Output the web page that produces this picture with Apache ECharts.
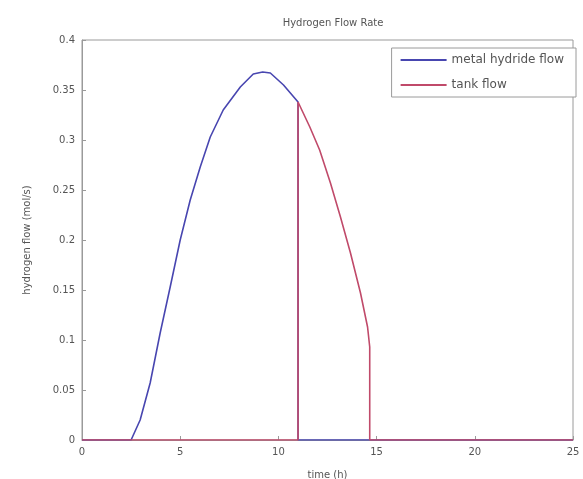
<!DOCTYPE html>
<html><head><meta charset="utf-8">
<script src="https://cdn.jsdelivr.net/npm/echarts@6/dist/echarts.min.js"></script>
<style>html,body{margin:0;padding:0;background:#fff}#c{width:583px;height:479px}</style>
</head><body><div id="c"></div>
<script>
const title = 'Hydrogen Flow Rate';
const xLabel = 'time (h)';
const yLabel = 'hydrogen flow (mol/s)';
const seriesNames = ['metal hydride flow', 'tank flow'];
const xTicks = [0, 5, 10, 15, 20, 25];
const yTicks = [0, 0.05, 0.1, 0.15, 0.2, 0.25, 0.3, 0.35, 0.4];

const hydrideT = [0, 2.5, 2.96, 3.47, 3.98, 4.49, 5.0, 5.51, 6.02, 6.53, 7.19, 8.06, 8.72, 9.2, 9.59, 10.26, 10.87, 11.0, 11.0, 14.65, 25];
const hydrideV = [0, 0, 0.02, 0.057, 0.107, 0.153, 0.2, 0.24, 0.273, 0.303, 0.33, 0.353, 0.366, 0.368, 0.367, 0.355, 0.341, 0.338, 0, 0, 0];

const tankT = [0, 11.0, 11.0, 11.6, 12.1, 12.65, 13.16, 13.67, 14.18, 14.54, 14.65, 14.65, 25];
const tankV = [0, 0, 0.338, 0.313, 0.29, 0.257, 0.223, 0.187, 0.147, 0.113, 0.093, 0, 0];

const zip = (a, b) => a.map((t, i) => [t, b[i]]);
const chart = echarts.init(document.getElementById('c'));
const txt = '#555';
chart.setOption({
  animation: false,
  title: { text: title, left: 328, top: 13, textAlign: 'center',
    textStyle: { fontSize: 10, fontWeight: 'normal', color: txt, fontFamily: 'DejaVu Sans' } },
  grid: { left: 82, right: 10, top: 40, bottom: 39, show: true, borderColor: '#9a9a9a', borderWidth: 1,
    containLabel: false, outerBoundsMode: 'none' },
  legend: {
    right: 7, top: 48, orient: 'vertical', data: seriesNames,
    backgroundColor: '#fff', borderColor: '#9a9a9a', borderWidth: 1,
    padding: [6, 12, 6, 9], itemGap: 13, itemWidth: 46, itemHeight: 2, icon: 'rect',
    textStyle: { fontSize: 12, color: txt, fontFamily: 'DejaVu Sans' }
  },
  xAxis: {
    type: 'value', min: 0, max: 25, interval: 5,
    name: xLabel, nameLocation: 'middle', nameGap: 30,
    nameTextStyle: { fontSize: 10, color: txt, fontFamily: 'DejaVu Sans' },
    axisLine: { show: true, lineStyle: { color: '#9a9a9a' } },
    axisTick: { inside: true, length: 4, lineStyle: { color: '#9a9a9a' } },
    axisLabel: { fontSize: 10, color: txt, fontFamily: 'DejaVu Sans', margin: 7 },
    splitLine: { show: false }
  },
  yAxis: {
    type: 'value', min: 0, max: 0.4, interval: 0.05,
    name: yLabel, nameLocation: 'middle', nameGap: 50,
    nameTextStyle: { fontSize: 10, color: txt, fontFamily: 'DejaVu Sans' },
    axisLine: { show: true, lineStyle: { color: '#9a9a9a' } },
    axisTick: { inside: true, length: 4, lineStyle: { color: '#9a9a9a' } },
    axisLabel: { fontSize: 10, color: txt, fontFamily: 'DejaVu Sans', margin: 7,
      formatter: v => String(+v.toFixed(2)) },
    splitLine: { show: false }
  },
  series: [
    { name: seriesNames[0], type: 'line', data: zip(hydrideT, hydrideV), showSymbol: false,
      lineStyle: { color: '#4846b0', width: 1.6 }, itemStyle: { color: '#4846b0' }, z: 2 },
    { name: seriesNames[1], type: 'line', data: zip(tankT, tankV), showSymbol: false,
      lineStyle: { color: '#c04a6a', width: 1.6 }, itemStyle: { color: '#c04a6a' }, z: 3 }
  ]
});
</script></body></html>
